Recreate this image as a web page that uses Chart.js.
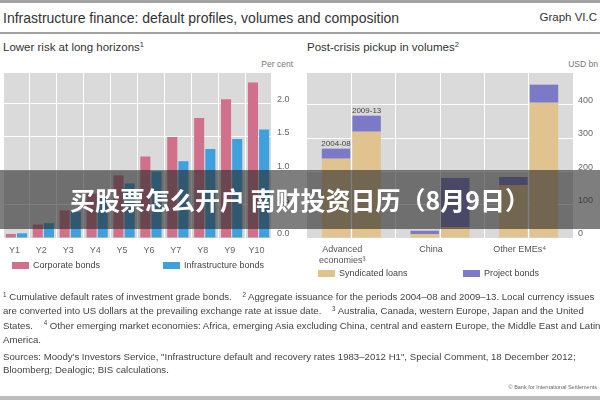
<!DOCTYPE html>
<html>
<head>
<meta charset="utf-8">
<title>Infrastructure finance</title>
<script src="https://cdn.jsdelivr.net/npm/chart.js@4.4.1/dist/chart.umd.min.js"></script>
<style>
    body { margin: 0; width: 600px; height: 400px; position: relative; overflow: hidden; background: #fff;
           font-family: 'Liberation Sans', Arial, sans-serif; color: #333; }
    .abs { position: absolute; white-space: nowrap; }
    sup { font-size: 65%; vertical-align: 0; position: relative; top: -0.5em; }
    .rule { position: absolute; left: 0; width: 600px; background: #a3a3a3; }
    .unit { position: absolute; top: 59px; font-size: 8.5px; color: #777; }
    .legend { position: absolute; font-size: 9px; color: #444; }
    .legend span.box { display: inline-block; width: 17px; height: 7px; margin-right: 4px; vertical-align: -1px; }
    .notes { position: absolute; left: 3px; width: 597px; overflow: hidden; font-size: 9.65px; line-height: 13.3px; color: #444; }
    .notes div { white-space: nowrap; }
    #banner { position: absolute; left: 0; top: 170px; width: 600px; height: 59px; background: rgba(40, 40, 40, 0.6);
              color: #fff; font-family: 'Noto Sans CJK SC', sans-serif; font-weight: bold; font-size: 25px;
              line-height: 59px; text-align: center; }
</style>
</head>
<body>

<div class="rule" style="top:0; height:3px;"></div>
<div class="abs" style="left:3px; top:10px; font-size:14px;">Infrastructure finance: default profiles, volumes and composition</div>
<div class="abs" style="right:3px; top:11px; font-size:11.5px;">Graph VI.C</div>
<div class="rule" style="top:32px; height:2px;"></div>

<div class="abs" style="left:3px; top:41px; font-size:11.5px;">Lower risk at long horizons<sup>1</sup></div>
<div class="abs" style="left:307px; top:41px; font-size:11.5px;">Post-crisis pickup in volumes<sup>2</sup></div>
<div class="unit" style="right:307px;">Per cent</div>
<div class="unit" style="right:2px;">USD bn</div>

<canvas id="riskChart" width="300" height="210" style="position:absolute; left:0; top:60px;"></canvas>
<canvas id="volumeChart" width="300" height="210" style="position:absolute; left:300px; top:60px;"></canvas>

<div class="legend" style="left:12px; top:260px;"><span class="box" style="background:#d0708b"></span>Corporate bonds</div>
<div class="legend" style="left:163px; top:260px;"><span class="box" style="background:#3ea0dd"></span>Infrastructure bonds</div>
<div class="legend" style="left:318px; top:268px;"><span class="box" style="background:#e0c38e"></span>Syndicated loans</div>
<div class="legend" style="left:463px; top:268px;"><span class="box" style="background:#7c79c6"></span>Project bonds</div>

<div class="notes" style="top:290px;">
    <div><sup>1</sup> Cumulative default rates of investment grade bonds. &nbsp;&nbsp; <sup>2</sup> Aggregate issuance for the periods 2004–08 and 2009–13. Local currency issues</div>
    <div>are converted into US dollars at the prevailing exchange rate at issue date. &nbsp;&nbsp; <sup>3</sup> Australia, Canada, western Europe, Japan and the United</div>
    <div>States. &nbsp;&nbsp; <sup>4</sup> Other emerging market economies: Africa, emerging Asia excluding China, central and eastern Europe, the Middle East and Latin</div>
    <div>America.</div>
</div>
<div class="notes" style="top:350px;">
    <div>Sources: Moody's Investors Service, "Infrastructure default and recovery rates 1983–2012 H1", Special Comment, 18 December 2012;</div>
    <div>Bloomberg; Dealogic; BIS calculations.</div>
</div>
<div class="abs" style="right:3px; top:384px; font-size:5.5px; color:#666;">© Bank for International Settlements</div>
<div class="rule" style="top:396px; height:4px; background:#bdbdbd;"></div>

<div id="banner">买股票怎么开户 南财投资日历（8月9日）</div>

<script>
// Left panel: cumulative default rates, per cent
const yearLabels = ['Y1', 'Y2', 'Y3', 'Y4', 'Y5', 'Y6', 'Y7', 'Y8', 'Y9', 'Y10'];
const corporateBonds = [0.06, 0.20, 0.41, 0.66, 0.93, 1.21, 1.50, 1.78, 2.06, 2.31];
const infrastructureBonds = [0.07, 0.22, 0.39, 0.60, 0.81, 0.99, 1.14, 1.32, 1.47, 1.61];
const riskTicks = [0, 0.5, 1.0, 1.5, 2.0];

// Right panel: issuance volumes, USD bn
const regionLabels = [['Advanced', 'economies³'], 'China', 'Other EMEs⁴'];
const periodLabels = ['2004-08', '2009-13'];
const syndicatedLoans0408 = [238, 12, 159];
const projectBonds0408 = [30, 10, 24];
const syndicatedLoans0913 = [319, 33, 406];
const projectBonds0913 = [48, 147, 54];
const volumeTicks = [0, 100, 200, 300, 400];

const colors = {
    corporate: '#d0708b',
    infrastructure: '#3ea0dd',
    syndicated: '#e0c38e',
    project: '#7c79c6',
    plotBg: '#dadada',
    tick: '#666'
};

Chart.defaults.font.family = "'Liberation Sans', Arial, sans-serif";
Chart.defaults.font.size = 9;
Chart.defaults.color = colors.tick;
Chart.defaults.animation = false;

// Grey plot background behind the grid
const plotBackground = {
    id: 'plotBackground',
    beforeDraw(chart) {
        const { ctx, chartArea } = chart;
        ctx.save();
        ctx.fillStyle = colors.plotBg;
        ctx.fillRect(chartArea.left, chartArea.top, chartArea.width, chartArea.height);
        ctx.restore();
    }
};

// Period names written above the advanced economies stacks
const periodTags = {
    id: 'periodTags',
    afterDatasetsDraw(chart) {
        const ctx = chart.ctx;
        ctx.save();
        ctx.font = "8px 'Liberation Sans', Arial, sans-serif";
        ctx.fillStyle = '#444';
        ctx.textAlign = 'center';
        ctx.textBaseline = 'bottom';
        [1, 3].forEach(function(dsIndex, i) {
            const bar = chart.getDatasetMeta(dsIndex).data[0];
            ctx.fillText(periodLabels[i], bar.x, bar.y - 1);
        });
        ctx.restore();
    }
};

function rightAxis(max, tickValues, digits, width) {
    return {
        position: 'right',
        min: 0,
        max: max,
        border: { display: false },
        grid: { color: '#fff', lineWidth: 1, drawTicks: false },
        ticks: {
            labelOffset: -4,
            padding: 5,
            callback: function(value) { return value.toFixed(digits); }
        },
        afterBuildTicks: function(scale) {
            scale.ticks = tickValues.map(function(v) { return { value: v }; });
        },
        afterFit: function(scale) { scale.width = width; }
    };
}

// Lower risk at long horizons
new Chart(document.getElementById('riskChart'), {
    type: 'bar',
    data: {
        labels: yearLabels,
        datasets: [
            { label: 'Corporate bonds', data: corporateBonds, backgroundColor: colors.corporate },
            { label: 'Infrastructure bonds', data: infrastructureBonds, backgroundColor: colors.infrastructure }
        ]
    },
    options: {
        responsive: false,
        layout: { padding: { left: 3, top: 13, right: 0, bottom: 0 } },
        datasets: { bar: { categoryPercentage: 0.83, barPercentage: 0.9 } },
        plugins: { legend: { display: false }, tooltip: { enabled: false } },
        scales: {
            x: {
                border: { display: false },
                grid: { offset: true, color: '#fff', drawTicks: false },
                ticks: { padding: 7, labelOffset: -2 },
                afterFit: function(scale) { scale.height = 32; }
            },
            y: rightAxis(2.45, riskTicks, 1, 28)
        }
    },
    plugins: [plotBackground]
});

// Post-crisis pickup in volumes
new Chart(document.getElementById('volumeChart'), {
    type: 'bar',
    data: {
        labels: regionLabels,
        datasets: [
            { label: 'Syndicated loans', data: syndicatedLoans0408, backgroundColor: colors.syndicated, stack: 'p1' },
            { label: 'Project bonds', data: projectBonds0408, backgroundColor: colors.project, stack: 'p1' },
            { label: 'Syndicated loans', data: syndicatedLoans0913, backgroundColor: colors.syndicated, stack: 'p2' },
            { label: 'Project bonds', data: projectBonds0913, backgroundColor: colors.project, stack: 'p2' }
        ]
    },
    options: {
        responsive: false,
        layout: { padding: { left: 7, top: 13, right: 0, bottom: 0 } },
        datasets: { bar: { categoryPercentage: 0.69, barPercentage: 0.93 } },
        plugins: { legend: { display: false }, tooltip: { enabled: false } },
        scales: {
            x: {
                stacked: true,
                border: { display: false },
                grid: { display: false },
                ticks: { padding: -2, labelOffset: -9, color: '#555' },
                afterFit: function(scale) { scale.height = 32; }
            },
            // extra axis only for the white lines between the two periods
            x2: {
                type: 'category',
                labels: ['', '', '', '', '', ''],
                position: 'bottom',
                offset: true,
                border: { display: false },
                grid: { offset: true, color: '#fff', drawTicks: false },
                ticks: { display: false },
                afterFit: function(scale) { scale.height = 0; }
            },
            y: Object.assign(rightAxis(495, volumeTicks, 0, 27), { stacked: true })
        }
    },
    plugins: [plotBackground, periodTags]
});
</script>
</body>
</html>
